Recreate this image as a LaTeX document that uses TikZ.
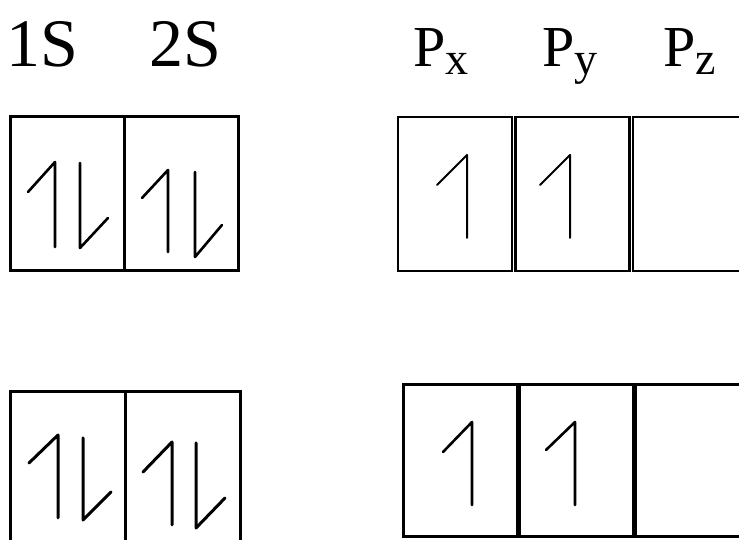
\documentclass[tikz,border=0pt]{standalone}
\usepackage{fontspec}
\setmainfont{Liberation Serif}
\usetikzlibrary{positioning}
\newcommand{\porb}[1]{P\raisebox{-8pt}{\fontsize{46}{46}\selectfont #1}}

\begin{document}
\begin{tikzpicture}[x=1pt,y=1pt,
  orb/.style={draw,line width=3pt,minimum width=114pt,minimum height=154pt,inner sep=0pt,outer sep=0pt},
  orbb/.style={orb,minimum width=114pt,minimum height=152pt},
  spin/.style={line width=2.6pt,line cap=round,line join=round},
  slabel/.style={font=\fontsize{68}{68}\selectfont,inner sep=0pt,anchor=base},
  plabel/.style={font=\fontsize{58}{58}\selectfont,inner sep=0pt,anchor=base}
]
\useasboundingbox (0,0) rectangle (739,540);
% labels
\node[slabel] (l1s) at (42,473) {1S};
\node[slabel] (l2s) at (185,473) {2S};
\node[plabel] (lpx) at (441,473) {\porb{x}};
\node[plabel] (lpy) at (570,473) {\porb{y}};
\node[plabel] (lpz) at (690,473) {\porb{z}};
% top row
\node[orb,anchor=north west] (s1t) at (10,423) {};
\node[orb,right=0pt of s1t] (s2t) {};
\node[orb,anchor=north west,line width=2.4pt] (pxt) at (398,423) {};
\node[orb,line width=2.4pt,right=3.5pt of pxt] (pyt) {};
\node[orb,line width=2.4pt,right=3.5pt of pyt] (pzt) {};
% bottom row
\node[orb,minimum width=115pt,anchor=north west] (s1b) at (10,148) {};
\node[orb,minimum width=115pt,right=0pt of s1b] (s2b) {};
\node[orbb,anchor=north west] (pxb) at (403,155) {};
\node[orbb,right=2pt of pxb] (pyb) {};
\node[orbb,right=2pt of pyb] (pzb) {};
% spins, top
\draw[spin] (28,348) -- (55,378) -- (55,293);
\draw[spin] (80,377) -- (80,292) -- (108,322);
\draw[spin] (142,342) -- (168,370) -- (168,288);
\draw[spin] (195,368) -- (195,283) -- (222,315);
\draw[spin,line width=2pt] (437,355) -- (467,385) -- (467,302);
\draw[spin,line width=2pt] (540,355) -- (570,385) -- (570,302);
% spins, bottom
\draw[spin,line width=3pt] (29,77) -- (58,105) -- (58,22);
\draw[spin,line width=3pt] (83,102) -- (83,20) -- (111,48);
\draw[spin,line width=3pt] (143,68) -- (172,98) -- (172,15);
\draw[spin,line width=3pt] (196,97) -- (196,12) -- (225,42);
\draw[spin] (443,88) -- (472,118) -- (472,35);
\draw[spin] (546,90) -- (575,118) -- (575,35);
\end{tikzpicture}
\end{document}
